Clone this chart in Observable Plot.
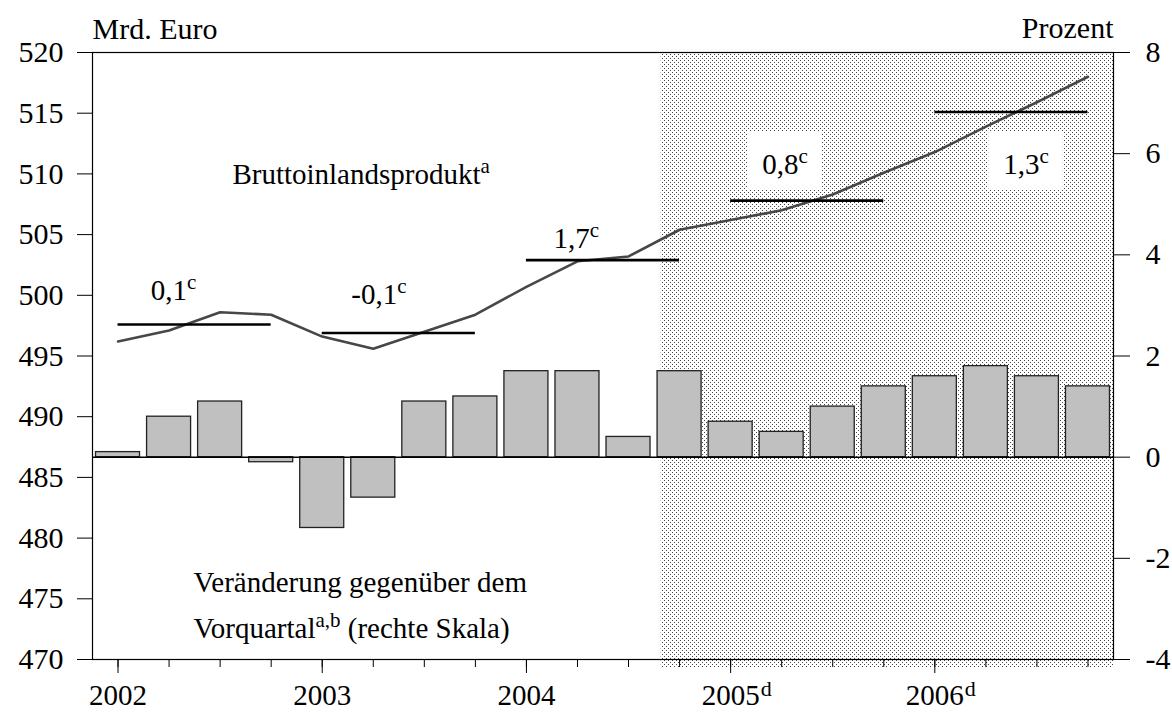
<!DOCTYPE html>
<html>
<head>
<meta charset="utf-8">
<script src="https://cdn.jsdelivr.net/npm/d3@7"></script>
<script src="https://cdn.jsdelivr.net/npm/@observablehq/plot@0.6"></script>
<style>
  html, body { margin: 0; padding: 0; background: #fff; }
  #chart { width: 1172px; height: 712px; }
</style>
</head>
<body>
<div id="chart"></div>
<script>
// ---------------- data ----------------
const quarters = [
  "2002 Q1","2002 Q2","2002 Q3","2002 Q4",
  "2003 Q1","2003 Q2","2003 Q3","2003 Q4",
  "2004 Q1","2004 Q2","2004 Q3","2004 Q4",
  "2005 Q1","2005 Q2","2005 Q3","2005 Q4",
  "2006 Q1","2006 Q2","2006 Q3","2006 Q4"
];
// Bruttoinlandsprodukt, Mrd. Euro (left scale)
const gdp = [496.2, 497.1, 498.6, 498.4, 496.6, 495.6, 497.0, 498.4, 500.7, 502.8,
             503.2, 505.4, 506.2, 507.0, 508.3, 510.1, 511.8, 513.9, 515.9, 518.0];
// Veränderung gegenüber dem Vorquartal, Prozent (right scale)
const change = [0.1, 0.8, 1.1, -0.1, -1.4, -0.8, 1.1, 1.2, 1.7, 1.7,
                0.4, 1.7, 0.7, 0.5, 1.0, 1.4, 1.6, 1.8, 1.6, 1.4];
const years = ["2002", "2003", "2004", "2005", "2006"];
const yearNotes = ["", "", "", "d", "d"];
// annual average level (Mrd. Euro) and annual growth labels
const annualAvg = [497.6, 496.9, 502.9, 507.8, 515.1];
const annualAvgLabels = ["0,1^{c}", "-0,1^{c}", "1,7^{c}", "0,8^{c}", "1,3^{c}"];
const leftTicks = [470, 475, 480, 485, 490, 495, 500, 505, 510, 515, 520];
const rightTicks = [-4, -2, 0, 2, 4, 6, 8];
const rightTickLabels = ["-4", "-2", "0", "2", "4", "6", "8"];
const forecastStart = "2004 Q4";

// ---------------- layout helpers ----------------
const leftDomain = [470, 520];
const rightDomain = [-4, 8];
const toLeft = p => leftDomain[0] + (p - rightDomain[0]) * (leftDomain[1] - leftDomain[0]) / (rightDomain[1] - rightDomain[0]);
const zero = toLeft(0);
const half = 0.431;
const fIdx = quarters.indexOf(forecastStart);

// annotation placement (quarter index, Mrd. Euro at baseline)
const avgLabelPos = [
  {x: 0.64, y: 499.65, boxed: false},
  {x: 4.57, y: 499.3, boxed: false},
  {x: 8.53, y: 503.9, boxed: false},
  {x: 12.62, y: 510.0, boxed: true},
  {x: 17.34, y: 510.0, boxed: true}
];
const avgLabelData = annualAvgLabels.map((t, k) => ({text: t, ...avgLabelPos[k]}));
const notes = [
  {text: "Bruttoinlandsprodukt^{a}", x: 2.24, y: 509.2},
  {text: "Veränderung gegenüber dem", x: 1.48, y: 475.55},
  {text: "Vorquartal^{a,b} (rechte Skala)", x: 1.48, y: 471.75}
];

const data = quarters.map((q, i) => ({q, i, gdp: gdp[i], change: change[i]}));
const avgData = annualAvg.map((v, k) => ({v, k}));
const yearTickIdx = years.map((y, k) => k * 4);

const FS = 29;

const plot = Plot.plot({
  width: 1172,
  height: 712,
  marginLeft: 92,
  marginRight: 59,
  marginTop: 52,
  marginBottom: 53,
  x: {domain: [-0.5, quarters.length - 0.5], axis: null},
  y: {domain: leftDomain, axis: null},
  style: {
    fontFamily: '"Liberation Serif", "Times New Roman", serif',
    fontSize: FS + "px",
    color: "black",
    background: "white",
    overflow: "visible"
  },
  marks: [
    // forecast shading
    Plot.rect([0], {
      x1: () => fIdx - 0.36, x2: () => quarters.length - 0.5,
      y1: () => leftDomain[0], y2: () => leftDomain[1],
      fill: "url(#dots)", insetBottom: -8
    }),
    // bars (right scale, mapped onto left)
    Plot.rect(data, {
      x1: d => d.i - half, x2: d => d.i + half,
      y1: () => zero, y2: d => toLeft(d.change),
      fill: "#c0c0c0", stroke: "#222", strokeWidth: 1.3
    }),
    Plot.ruleY([zero], {stroke: "black", strokeWidth: 1.5}),
    // GDP line
    Plot.line(data, {x: "i", y: "gdp", stroke: "#474747", strokeWidth: 2.6}),
    // annual averages
    Plot.ruleY(avgData, {y: "v", x1: d => d.k * 4, x2: d => d.k * 4 + 3, stroke: "black", strokeWidth: 2.6}),
    // labels
    Plot.text(avgLabelData.filter(d => !d.boxed), {
      x: "x", y: "y", text: "text", textAnchor: "start", lineAnchor: "bottom", fontSize: FS
    }),
    Plot.text(avgLabelData.filter(d => d.boxed), {
      x: "x", y: "y", text: "text", textAnchor: "start", lineAnchor: "bottom", fontSize: FS,
      ariaDescription: "boxed"
    }),
    Plot.text(notes, {
      x: "x", y: "y", text: "text", textAnchor: "start", lineAnchor: "bottom", fontSize: FS
    }),
    // axes
    Plot.axisY({ticks: leftTicks, anchor: "left", tickSize: 15, tickPadding: 14,
      tickFormat: d => String(d), fontSize: 30, label: null}),
    Plot.axisY({ticks: rightTicks.map(toLeft), anchor: "right", tickSize: 16, tickPadding: 16,
      tickFormat: v => rightTickLabels[rightTicks.findIndex(p => Math.abs(toLeft(p) - v) < 1e-6)],
      fontSize: 30, label: null}),
    Plot.axisX({ticks: data.map(d => d.i), tickSize: 8, tickFormat: () => "", label: null}),
    Plot.axisX({ticks: yearTickIdx, tickSize: 14, tickFormat: () => "", label: null}),
    Plot.axisX({ticks: yearTickIdx, tickSize: 0, tickPadding: 25,
      tickFormat: v => years[Math.round(v / 4)], fontSize: 29, label: null}),
    Plot.text(yearNotes.map((n, k) => ({n, k})).filter(d => d.n), {
      x: d => d.k * 4, frameAnchor: "bottom", text: "n", dx: 30, dy: 36,
      textAnchor: "start", lineAnchor: "bottom", fontSize: 22
    }),
    // headers
    Plot.text(["Mrd. Euro"], {text: d => d, frameAnchor: "top-left", dy: -14,
      textAnchor: "start", lineAnchor: "bottom", fontSize: 30}),
    Plot.text(["Prozent"], {text: d => d, frameAnchor: "top-right", dy: -15,
      textAnchor: "end", lineAnchor: "bottom", fontSize: 30}),
    Plot.frame({stroke: "black", strokeWidth: 1.2})
  ]
});

document.getElementById("chart").append(plot);

const NS = "http://www.w3.org/2000/svg";
const svg = plot.tagName.toLowerCase() === "svg" ? plot : plot.querySelector("svg");

// pattern for forecast shading
const defs = document.createElementNS(NS, "defs");
defs.innerHTML = '<pattern id="dots" width="4" height="4" patternUnits="userSpaceOnUse">' +
  '<rect width="4" height="4" fill="white"/>' +
  '<rect x="0" y="0" width="1" height="1" fill="#444"/>' +
  '<rect x="2" y="2" width="1" height="1" fill="#444"/></pattern>';
svg.insertBefore(defs, svg.firstChild);

// superscripts
const SUP = 21, RAISE = 11;
svg.querySelectorAll("text").forEach(t => {
  if (t.children.length) return;
  const s = t.textContent;
  if (!s.includes("^{")) return;
  t.textContent = "";
  let raised = false;
  for (const part of s.split(/(\^\{[^}]*\})/)) {
    if (!part) continue;
    const ts = document.createElementNS(NS, "tspan");
    if (part.startsWith("^{")) {
      ts.textContent = part.slice(2, -1);
      ts.setAttribute("font-size", SUP);
      ts.setAttribute("dy", -RAISE);
      raised = true;
    } else {
      ts.textContent = part;
      if (raised) { ts.setAttribute("dy", RAISE); raised = false; }
    }
    t.appendChild(ts);
  }
});

// white boxes behind boxed labels
svg.querySelectorAll('g[aria-description="boxed"] text').forEach(t => {
  const b = t.getBBox();
  const r = document.createElementNS(NS, "rect");
  r.setAttribute("x", b.x - 15);
  r.setAttribute("y", b.y - 12);
  r.setAttribute("width", b.width + 29);
  r.setAttribute("height", b.height + 21);
  r.setAttribute("fill", "white");
  r.setAttribute("stroke", "none");
  const tr = t.getAttribute("transform");
  if (tr) r.setAttribute("transform", tr);
  t.parentNode.insertBefore(r, t);
});
</script>
</body>
</html>
